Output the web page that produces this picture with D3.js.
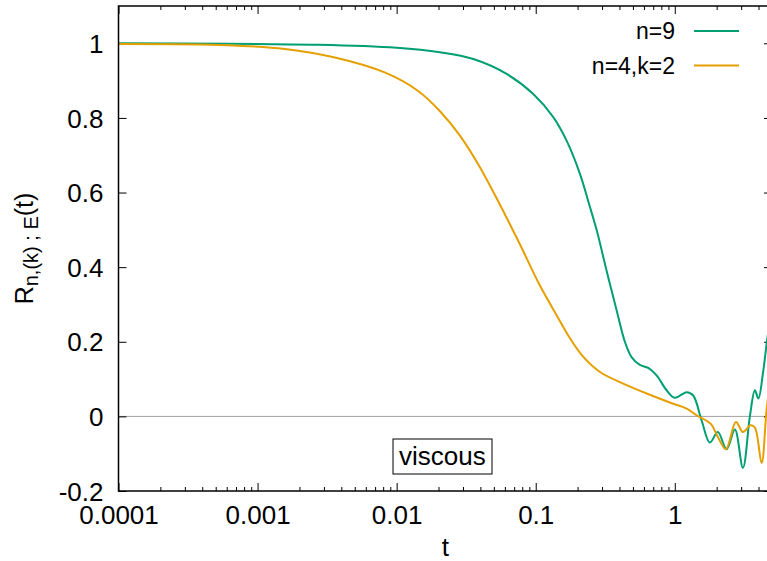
<!DOCTYPE html>
<html><head><meta charset="utf-8">
<script src="https://cdn.jsdelivr.net/npm/d3@7"></script>
<style>
html,body{margin:0;padding:0;background:#fff;}
svg{display:block;font-family:"Liberation Sans",Arial,Helvetica,sans-serif;}
</style></head>
<body>
<svg id="chart" width="767" height="561"></svg>
<script>
// ---- data ----
const seriesNames = ["n=9", "n=4,k=2"];
const seriesColors = ["#009e73", "#e69f00"];
const tN9 = [0.0001,0.00272,0.01,0.0205,0.0356,0.0618,0.096,0.1337,0.1667,0.208,0.2455,0.274,0.3236,0.382,0.4375,0.4887,0.561,0.644,0.740,0.873,1.0,1.216,1.356,1.559,1.788,2.04,2.356,2.704,3.09,3.467,3.767,3.99,4.32,4.59,5.0];
const vN9 = [1.0,0.996,0.988,0.976,0.958,0.918,0.864,0.802,0.739,0.650,0.561,0.50,0.39,0.284,0.200,0.159,0.138,0.130,0.110,0.070,0.050,0.065,0.056,-0.011,-0.070,-0.042,-0.088,-0.035,-0.138,0.0,0.070,0.048,0.12,0.199,0.30];
const tN4 = [0.0001,0.00061,0.00157,0.0036,0.0082,0.0142,0.0205,0.0286,0.0397,0.0552,0.0768,0.1067,0.1430,0.1740,0.2193,0.2897,0.4256,0.662,0.973,1.216,1.435,1.816,2.04,2.33,2.75,3.09,3.50,3.767,4.21,4.59,5.0];
const vN4 = [0.998,0.995,0.985,0.962,0.922,0.873,0.818,0.752,0.668,0.568,0.462,0.352,0.268,0.213,0.160,0.119,0.088,0.058,0.034,0.021,0.003,-0.020,-0.055,-0.088,-0.015,-0.042,-0.024,-0.03,-0.125,0.025,0.12];
const xTickValues = [0.0001,0.001,0.01,0.1,1];
const xTickLabels = ["0.0001","0.001","0.01","0.1","1"];
const yTickValues = [-0.2,0,0.2,0.4,0.6,0.8,1];
const yTickLabels = ["-0.2","0","0.2","0.4","0.6","0.8","1"];
const xLabel = "t";
const boxLabel = "viscous";

// ---- layout ----
const svg = d3.select("#chart");
const L = 118.5, T = 6, B = 491, R = 772;
const x = d3.scaleLog().domain([1e-4, 5]).range([L, R]);
const y = d3.scaleLinear().domain([-0.2, 1.1]).range([B, T]);
const fs = 26;

svg.append("defs").append("clipPath").attr("id","clip")
  .append("rect").attr("x",L).attr("y",T).attr("width",R-L).attr("height",B-T);

// zero line
svg.append("line").attr("x1",L).attr("x2",R).attr("y1",y(0)).attr("y2",y(0))
  .attr("stroke","#a0a0a0").attr("stroke-width",1);

// minor x ticks
const minors = [];
for (let d=-4; d<=0; d++) for (let m=2; m<=9; m++) { const v = m*Math.pow(10,d); if (v<5) minors.push(v); }

function styleAxis(g){ g.select(".domain").remove(); g.selectAll("line").attr("stroke","#000").attr("stroke-width",1); }

svg.append("g").attr("transform",`translate(0,${B})`)
  .call(d3.axisBottom(x).tickValues(minors).tickSize(-4).tickFormat("")).call(styleAxis);
svg.append("g").attr("transform",`translate(0,${T})`)
  .call(d3.axisTop(x).tickValues(minors).tickSize(-4).tickFormat("")).call(styleAxis);
svg.append("g").attr("transform",`translate(0,${T})`)
  .call(d3.axisTop(x).tickValues(xTickValues).tickSize(-8).tickFormat("")).call(styleAxis);
const gx = svg.append("g").attr("transform",`translate(0,${B})`)
  .call(d3.axisBottom(x).tickValues(xTickValues).tickSize(-8).tickPadding(0)
    .tickFormat((d,i)=>xTickLabels[i])).call(styleAxis);
gx.selectAll("text").attr("font-size",fs).attr("font-family",null).attr("fill","#000")
  .attr("dy",null).attr("y",33);

const gy = svg.append("g").attr("transform",`translate(${L},0)`)
  .call(d3.axisLeft(y).tickValues(yTickValues).tickSize(-8).tickPadding(0)
    .tickFormat((d,i)=>yTickLabels[i])).call(styleAxis);
gy.selectAll("text").attr("font-size",fs).attr("font-family",null).attr("fill","#000")
  .attr("x",-15).attr("dy","0.35em");
svg.append("g").attr("transform",`translate(${R},0)`)
  .call(d3.axisRight(y).tickValues(yTickValues).tickSize(-8).tickFormat("")).call(styleAxis);

// curves
const line = d3.line().x(d=>x(d[0])).y(d=>y(d[1])).curve(d3.curveCatmullRom.alpha(0.5));
const series = [d3.zip(tN9,vN9), d3.zip(tN4,vN4)];
const plot = svg.append("g").attr("clip-path","url(#clip)");
series.forEach((s,i)=>{
  plot.append("path").datum(s).attr("d",line).attr("fill","none")
    .attr("stroke",seriesColors[i]).attr("stroke-width",2).attr("stroke-linejoin","round");
});

// border
svg.append("rect").attr("x",L).attr("y",T).attr("width",R-L).attr("height",B-T)
  .attr("fill","none").attr("stroke","#000").attr("stroke-width",1.5);

// legend
const legY = [31, 65.5];
seriesNames.forEach((n,i)=>{
  svg.append("text").attr("x",675).attr("y",legY[i]).attr("dy","0.35em")
    .attr("text-anchor","end").attr("font-size",23).text(n);
  svg.append("line").attr("x1",694).attr("x2",739).attr("y1",legY[i]).attr("y2",legY[i])
    .attr("stroke",seriesColors[i]).attr("stroke-width",2);
});

// axis labels
svg.append("text").attr("x",(L+R)/2).attr("y",556).attr("text-anchor","middle")
  .attr("font-size",fs).text(xLabel);
const yl = svg.append("text").attr("transform","translate(33,248.5) rotate(-90)")
  .attr("text-anchor","middle").attr("font-size",25);
yl.append("tspan").text("R");
yl.append("tspan").attr("font-size",20).attr("dy",5).text("n,(k) ; E");
yl.append("tspan").attr("dy",-5).text("(t)");

// viscous box
svg.append("rect").attr("x",393).attr("y",439).attr("width",99).attr("height",35)
  .attr("fill","#fff").attr("stroke","#000").attr("stroke-width",1);
svg.append("text").attr("x",399).attr("y",465).attr("text-anchor","start")
  .attr("font-size",fs).text(boxLabel);
</script>
</body></html>
